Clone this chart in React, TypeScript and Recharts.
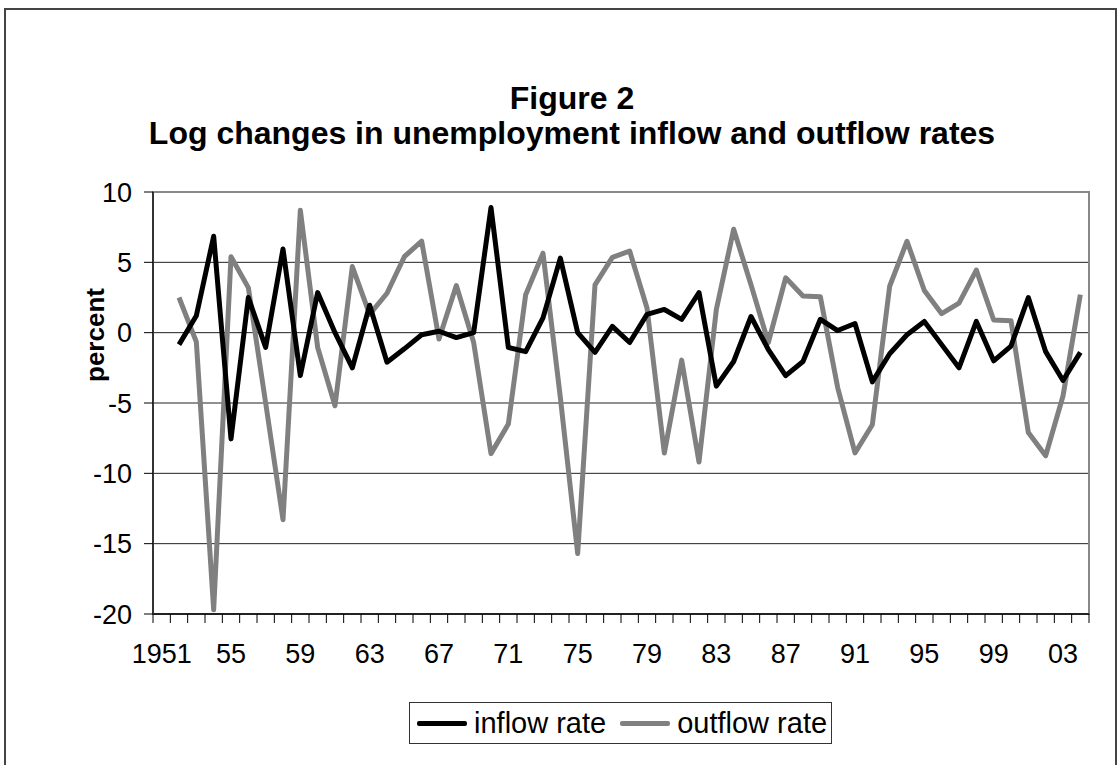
import { LineChart, Line, XAxis, YAxis, CartesianGrid, ReferenceArea, Label } from "recharts"

const years = Array.from({ length: 53 }, (_, i) => 1952 + i)

const inflow = [
  -0.85, 1.2, 6.85, -7.55, 2.5, -1.05, 5.95, -3.05, 2.85, 0.0,
  -2.5, 1.95, -2.1, -1.15, -0.15, 0.1, -0.35, 0.0, 8.9, -1.05,
  -1.35, 1.05, 5.3, 0.0, -1.4, 0.45, -0.7, 1.3, 1.65, 0.95,
  2.85, -3.8, -2.05, 1.15, -1.2, -3.05, -2.05, 0.95, 0.15, 0.65,
  -3.5, -1.5, -0.15, 0.8, -0.85, -2.5, 0.8, -2.0, -0.95, 2.5,
  -1.35, -3.4, -1.4,
]

const outflow = [
  2.5, -0.65, -19.7, 5.4, 3.2, -5.0, -13.3, 8.7, -1.05, -5.2,
  4.7, 1.3, 2.8, 5.4, 6.5, -0.45, 3.35, -0.7, -8.6, -6.5,
  2.7, 5.65, -4.6, -15.7, 3.4, 5.35, 5.8, 1.75, -8.55, -1.95,
  -9.2, 1.65, 7.35, 3.4, -0.7, 3.9, 2.6, 2.55, -3.9, -8.55,
  -6.55, 3.3, 6.5, 3.0, 1.35, 2.1, 4.45, 0.9, 0.85, -7.1,
  -8.75, -4.5, 2.7,
]

const labelYears = [1951, 1955, 1959, 1963, 1967, 1971, 1975, 1979, 1983, 1987, 1991, 1995, 1999, 2003]
const boundaryTicks = Array.from({ length: 55 }, (_, i) => 1950.5 + i)
const yTicks = [-20, -15, -10, -5, 0, 5, 10]

const data = years.map((year, i) => ({ year, inflow: inflow[i], outflow: outflow[i] }))

const FONT = '"Liberation Sans", Arial, sans-serif'

const fmtYear = (y: number) => (y === 1951 ? "1951" : String(y % 100).padStart(2, "0"))

function YearTick(props: any) {
  const { x, y, payload } = props
  const v = payload.value as number
  if (v % 1 !== 0) {
    return <line x1={x} y1={y} x2={x} y2={y + 9} stroke="#000" strokeWidth={1} />
  }
  return (
    <text x={x} y={y + 30} dy="0.71em" textAnchor="middle" fontSize={27} fontFamily={FONT} fill="#000">
      {fmtYear(v)}
    </text>
  )
}

function LegendLine({ color }: { color: string }) {
  return <span style={{ display: "inline-block", width: 50, height: 5, background: color, borderRadius: 2, margin: "0 7px 0 0", verticalAlign: "middle" }} />
}

export default function App() {
  return (
    <div style={{ position: "absolute", left: 0, top: 0, width: 1120, height: 765, background: "#fff", fontFamily: FONT, overflow: "hidden" }}>
      <div style={{ position: "absolute", left: 4, top: 8, width: 1113, height: 770, border: "2px solid #444", boxSizing: "border-box" }} />
      <div style={{ position: "absolute", left: 0, width: 1144, top: 81, textAlign: "center", fontWeight: "bold", fontSize: 32, lineHeight: "35px", color: "#000" }}>
        Figure 2
        <br />
        Log changes in unemployment inflow and outflow rates
      </div>
      <LineChart
        width={1120}
        height={765}
        data={data}
        margin={{ top: 192, right: 31, bottom: 91, left: 93 }}
        style={{ position: "absolute", left: 0, top: 0 }}
      >
        <CartesianGrid vertical={false} stroke="#222" strokeWidth={1} />
        <ReferenceArea x1={1950.5} x2={2004.5} y1={-20} y2={10} fill="none" stroke="#888" strokeWidth={2} />
        <XAxis
          dataKey="year"
          type="number"
          domain={[1950.5, 2004.5]}
          ticks={[...boundaryTicks, ...labelYears].sort((a, b) => a - b)}
          interval={0}
          tickLine={false}
          tickSize={0}
          tickMargin={0}
          height={60}
          axisLine={{ stroke: "#000", strokeWidth: 1.5 }}
          tick={<YearTick />}
        />
        <YAxis
          domain={[-20, 10]}
          ticks={yTicks}
          interval={0}
          width={60}
          tickSize={9}
          tickMargin={12}
          tickLine={{ stroke: "#000" }}
          axisLine={{ stroke: "#333", strokeWidth: 2 }}
          tick={{ fill: "#000", fontSize: 27, fontFamily: FONT }}
        >
          <Label
            content={() => (
              <text x={95} y={335} transform="rotate(-90 95 335)" textAnchor="middle" dominantBaseline="central" fontSize={26} fontWeight="bold" fontFamily={FONT} fill="#000">
                percent
              </text>
            )}
          />
        </YAxis>
        <Line dataKey="outflow" stroke="#808080" strokeWidth={5} dot={false} isAnimationActive={false} strokeLinejoin="round" />
        <Line dataKey="inflow" stroke="#000" strokeWidth={5} dot={false} isAnimationActive={false} strokeLinejoin="round" />
      </LineChart>
      <div style={{ position: "absolute", left: 409, top: 702, width: 423, height: 42, border: "1.5px solid #333", boxSizing: "border-box", display: "flex", alignItems: "center", paddingLeft: 7, fontSize: 29, whiteSpace: "nowrap", color: "#000" }}>
        <LegendLine color="#000" />
        <span style={{ marginRight: 14 }}>inflow rate</span>
        <LegendLine color="#808080" />
        <span>outflow rate</span>
      </div>
    </div>
  )
}
